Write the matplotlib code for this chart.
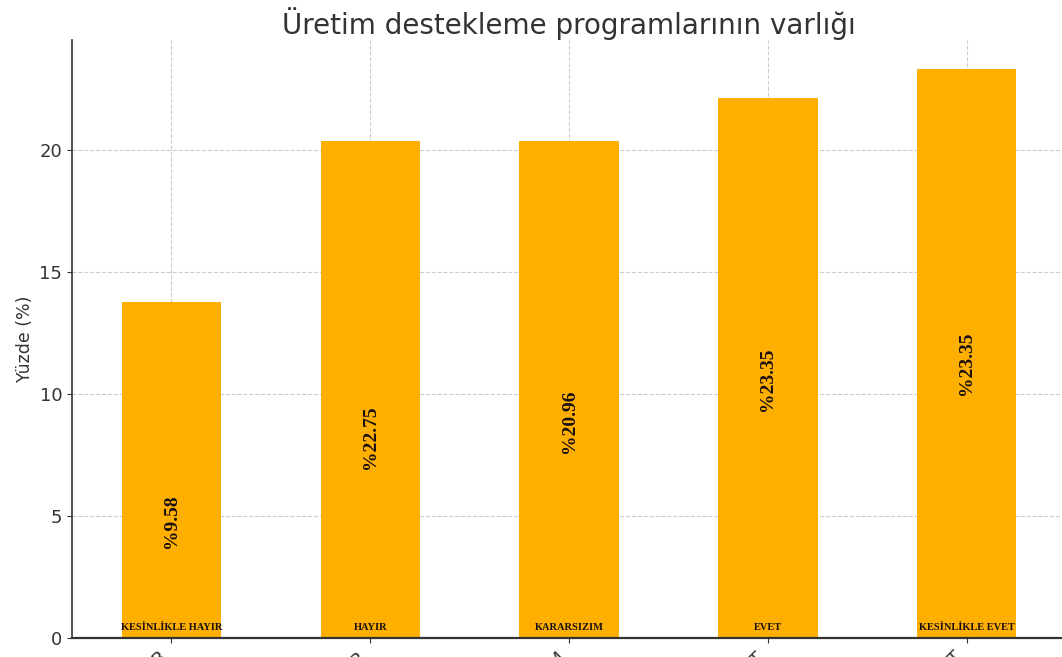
import matplotlib
matplotlib.use("Agg")
import matplotlib.pyplot as plt
import numpy as np

# categories and values
categories = ["KESİNLİKLE HAYIR", "HAYIR", "KARARSIZIM", "EVET", "KESİNLİKLE EVET"]
heights = [13.77, 20.36, 20.36, 22.16, 23.35]
value_labels = ["%9.58", "%22.75", "%20.96", "%23.35", "%23.35"]
label_y = [4.8, 8.25, 8.9, 10.6, 11.25]

fig = plt.figure(figsize=(10.62, 6.57), dpi=100)
# axes reaches a little past the right edge, as in the reference crop
ax = fig.add_axes([72/1062, 19/657, (1066-72)/1062, (638-40)/657])

x = np.arange(len(categories))
ax.bar(x, heights, width=0.5, color="#FFAF00", zorder=2)
ax.grid(True, linestyle="--", color="#cccccc", linewidth=0.8, zorder=0)
ax.set_axisbelow(True)

for xi, txt, yy in zip(x, value_labels, label_y):
    ax.text(xi, yy, txt, rotation=90, ha="center", va="center",
            fontsize=14, fontweight="bold", family="Liberation Serif", color="#1a1010")
for xi, cat in zip(x, categories):
    ax.text(xi, 0.45, cat, ha="center", va="center", fontsize=7.5,
            fontweight="bold", family="Liberation Serif", color="#1a1010")

ax.set_xlim(-0.5, 4.5)
ax.set_ylim(0, 24.52)
ax.set_yticks([0, 5, 10, 15, 20])
ax.set_xticks(x)
ax.set_xticklabels(categories, rotation=45, ha="right", fontsize=12)
ax.tick_params(axis="both", labelsize=13, colors="#333333")
ax.set_ylabel("Yüzde (%)", fontsize=12.5, color="#333333")
ax.set_title("Üretim destekleme programlarının varlığı", fontsize=20, pad=2, color="#333333")
ax.spines["top"].set_visible(False)
ax.spines["right"].set_visible(False)
ax.spines["left"].set_color("#333333")
ax.spines["bottom"].set_color("#333333")
ax.spines["left"].set_linewidth(1.2)
ax.spines["bottom"].set_linewidth(1.6)

fig.savefig("out.png", dpi=100)
